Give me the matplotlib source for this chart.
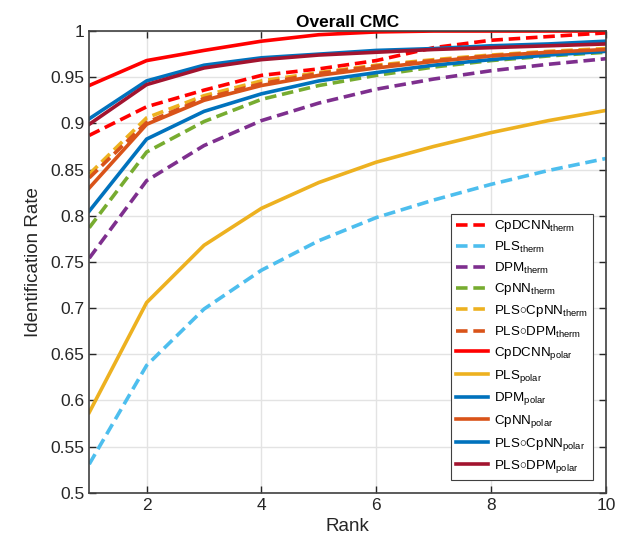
import matplotlib
matplotlib.use("Agg")
import matplotlib.pyplot as plt
import numpy as np

plt.rcParams['font.family'] = ['Liberation Sans', 'DejaVu Sans']
plt.rcParams['mathtext.fontset'] = 'custom'
plt.rcParams['mathtext.rm'] = 'Liberation Sans'
plt.rcParams['mathtext.it'] = 'Liberation Sans:italic'
plt.rcParams['mathtext.bf'] = 'Liberation Sans:bold'

ranks = [1, 2, 3, 4, 5, 6, 7, 8, 9, 10]

cpdcnn_therm = [0.887, 0.918, 0.936, 0.952, 0.959, 0.968, 0.982, 0.990, 0.994, 0.998]
pls_therm = [0.531, 0.638, 0.699, 0.741, 0.773, 0.798, 0.817, 0.834, 0.849, 0.862]
dpm_therm = [0.754, 0.838, 0.876, 0.903, 0.922, 0.937, 0.948, 0.957, 0.964, 0.970]
cpnn_therm = [0.787, 0.869, 0.902, 0.926, 0.941, 0.952, 0.961, 0.968, 0.973, 0.977]
pls_cpnn_therm = [0.845, 0.906, 0.930, 0.946, 0.955, 0.963, 0.969, 0.974, 0.978, 0.981]
pls_dpm_therm = [0.841, 0.901, 0.927, 0.943, 0.954, 0.962, 0.968, 0.973, 0.977, 0.979]
cpdcnn_polar = [0.941, 0.968, 0.979, 0.989, 0.996, 0.999, 1.0, 1.0, 1.0, 1.0]
pls_polar = [0.587, 0.706, 0.768, 0.808, 0.836, 0.858, 0.875, 0.890, 0.903, 0.914]
dpm_polar = [0.805, 0.883, 0.913, 0.932, 0.946, 0.955, 0.963, 0.969, 0.974, 0.978]
cpnn_polar = [0.830, 0.899, 0.925, 0.941, 0.952, 0.960, 0.967, 0.973, 0.977, 0.980]
pls_cpnn_polar = [0.905, 0.946, 0.963, 0.971, 0.975, 0.979, 0.981, 0.984, 0.986, 0.989]
pls_dpm_polar = [0.899, 0.942, 0.960, 0.969, 0.974, 0.977, 0.980, 0.982, 0.984, 0.986]

labels = [
    r'CpDCNN$_{\mathrm{therm}}$',
    r'PLS$_{\mathrm{therm}}$',
    r'DPM$_{\mathrm{therm}}$',
    r'CpNN$_{\mathrm{therm}}$',
    r'PLS$\circ$CpNN$_{\mathrm{therm}}$',
    r'PLS$\circ$DPM$_{\mathrm{therm}}$',
    r'CpDCNN$_{\mathrm{polar}}$',
    r'PLS$_{\mathrm{polar}}$',
    r'DPM$_{\mathrm{polar}}$',
    r'CpNN$_{\mathrm{polar}}$',
    r'PLS$\circ$CpNN$_{\mathrm{polar}}$',
    r'PLS$\circ$DPM$_{\mathrm{polar}}$',
]
series = [cpdcnn_therm, pls_therm, dpm_therm, cpnn_therm, pls_cpnn_therm, pls_dpm_therm,
          cpdcnn_polar, pls_polar, dpm_polar, cpnn_polar, pls_cpnn_polar, pls_dpm_polar]
colors = ['#FF0000', '#4DBEEE', '#7E2F8E', '#77AC30', '#EDB120', '#D95319',
          '#FF0000', '#EDB120', '#0072BD', '#D95319', '#0072BD', '#A2142F']
styles = ['--'] * 6 + ['-'] * 6

fig = plt.figure(figsize=(6.24, 5.5), dpi=100)
ax = fig.add_axes([0.143, 0.104, 0.828, 0.8396])

for y, lab, c, ls in zip(series, labels, colors, styles):
    if ls == '--':
        ax.plot(ranks, y, color=c, lw=2.6, linestyle=(0, (3.2, 1.6)), label=lab)
    else:
        ax.plot(ranks, y, color=c, lw=2.6, linestyle='-', label=lab)

ax.set_xlim(1, 10)
ax.set_ylim(0.5, 1.0)
ax.set_xticks([2, 4, 6, 8, 10])
yt = np.round(np.arange(0.5, 1.0001, 0.05), 2)
ax.set_yticks(yt)
ax.set_yticklabels([('%g' % v) for v in yt])
ax.grid(True, color='#E3E3E3', lw=1.0)
ax.set_axisbelow(True)
ax.tick_params(direction='in', top=True, right=True, length=5, width=1.0,
               labelsize=12.5, colors='#262626')
for s in ax.spines.values():
    s.set_color('#404040')
    s.set_linewidth(1.2)

ax.set_xlabel('Rank', fontsize=13.5, color='#262626', labelpad=4)
ax.set_ylabel('Identification Rate', fontsize=13.5, color='#262626', labelpad=6)
ax.set_title('Overall CMC', fontsize=12.5, fontweight='bold', pad=3)

leg = ax.legend(loc='lower right', bbox_to_anchor=(0.975, 0.028), borderaxespad=0,
                fontsize=9.6, frameon=True, fancybox=False, edgecolor='#404040',
                framealpha=1, handlelength=2.4, labelspacing=0.42, borderpad=0.35,
                handletextpad=0.5)
leg.get_frame().set_linewidth(0.8)

fig.savefig('out.png', dpi=100)
